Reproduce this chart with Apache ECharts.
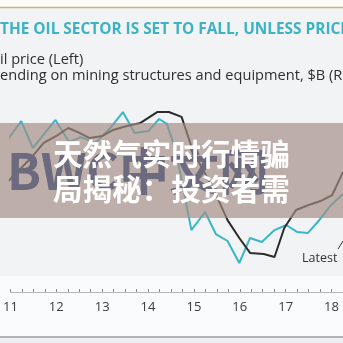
<!DOCTYPE html>
<html><head><meta charset="utf-8">
<script src="https://cdn.jsdelivr.net/npm/echarts@6/dist/echarts.min.js"></script>
<style>html,body{margin:0;padding:0;background:#fafbfc}#c{width:343px;height:343px}</style>
</head><body><div id="c"></div>
<script>
// Oil price (left axis), decimal year (20xx) vs $ per barrel
var oilYears = [10.936,11.235,11.490,11.981,12.279,12.535,12.855,13.175,13.452,13.708,14.006,14.241,14.412,14.603,14.945,15.243,15.478,15.733,15.989,16.224,16.480,16.757,17.013,17.247,17.482,17.716,17.972,18.249];
var oilValues = [96.8,106.8,92.5,107.4,95.7,98.3,95.2,103.1,111.6,100.5,101.5,107.9,105.3,91.4,48.9,58.5,46.8,43.1,31.4,44.7,42.6,48.9,51.6,47.9,47.3,53.7,61.7,68.1];
// Spending on mining structures and equipment, $B (right axis)
var spendYears = [10.936,11.192,11.469,11.725,12.002,12.258,12.471,12.727,13.004,13.239,13.537,13.836,14.198,14.454,14.731,14.987,15.200,15.414,15.733,15.989,16.224,16.522,16.757,16.970,17.226,17.503,17.759,18.015,18.249];
var spendValues = [107.6,115.0,123.0,131.6,135.9,140.8,138.3,134.6,135.9,139.6,142.0,143.9,150.6,150.6,147.6,126.0,115.0,103.9,84.2,73.2,64.0,63.4,61.5,79.3,90.4,93.5,95.9,99.6,113.7];
var tickYears = [11,12,13,14,15,16,17,18];
var titleText = 'THE OIL SECTOR IS SET TO FALL, UNLESS PRICES';
var legend1 = 'Oil price (Left)';
var legend2 = 'Spending on mining structures and equipment, $B (Right)';
var overlayLines = ['天然气实时行情骗', '局揭秘：投资者需'];
var watermark = 'BWC中文网';

function zip(a,b){return a.map(function(v,i){return [v,b[i]];});}
var mc = document.createElement('canvas').getContext('2d');
function w(t,font){mc.font=font;return mc.measureText(t).width;}
var legFont = '500 14.6px "Open Sans"';

var chart = echarts.init(document.getElementById('c'), null, {renderer:'canvas'});
chart.setOption({
  backgroundColor:'#fafbfc',
  animation:false,
  grid:{left:3,right:0,top:100,height:192},
  xAxis:{type:'value',min:11,max:18.25,interval:1,
    axisLine:{lineStyle:{color:'#b8b8b8',width:1}},
    axisTick:{inside:true,length:3,lineStyle:{color:'#8a8a8a'}},
    minorTick:{show:true,splitNumber:4,length:3,lineStyle:{color:'#8a8a8a'}},
    splitLine:{show:false},
    axisLabel:{margin:9,color:'#3b3b3b',fontSize:13,fontWeight:500,fontFamily:'Open Sans',
      showMaxLabel:false,
      formatter:function(v){return tickYears.indexOf(v)>=0?String(v):'';}}
  },
  yAxis:[{type:'value',min:16,max:118,show:false,splitLine:{show:false}},
         {type:'value',min:40,max:158,show:false,splitLine:{show:false}}],
  series:[
    {type:'line',yAxisIndex:0,data:zip(oilYears,oilValues),showSymbol:false,clip:false,
      lineStyle:{color:'#3ab6c7',width:2},z:3},
    {type:'line',yAxisIndex:1,data:zip(spendYears,spendValues),showSymbol:false,clip:false,
      lineStyle:{color:'#2b2b2b',width:2},z:4}
  ],
  graphic:[
    {type:'rect',z:-10,shape:{x:0,y:0,width:343,height:7},style:{fill:'#fbfbf7'}},
    {type:'rect',z:-10,shape:{x:0,y:8,width:343,height:268},style:{fill:'#f1f3f5'}},
    {type:'line',z:-9,shape:{x1:0,y1:7.5,x2:343,y2:7.5},style:{stroke:'#c6b584',lineWidth:1.5}},
    {type:'line',z:-9,shape:{x1:0,y1:337,x2:343,y2:337},style:{stroke:'#b4b4b4',lineWidth:2}},
    {type:'rect',z:-10,shape:{x:0,y:338,width:343,height:5},style:{fill:'#eef1f3'}},
    {type:'text',z:5,x:0,y:30,style:{text:titleText,fill:'#3cb3c4',font:'700 15.4px "Open Sans"',textVerticalAlign:'middle'}},
    {type:'text',z:5,x:-w('O',legFont),y:60,style:{text:legend1,fill:'#2f2f2f',font:legFont,textVerticalAlign:'middle'}},
    {type:'text',z:5,x:-w('Sp',legFont),y:76,style:{text:legend2,fill:'#2f2f2f',font:legFont,textVerticalAlign:'middle'}},
    {type:'text',z:5,x:302,y:258,style:{text:'Latest',fill:'#333',font:'500 12.5px "Open Sans"',textVerticalAlign:'middle'}},
    {type:'line',z:5,shape:{x1:338,y1:249,x2:343,y2:241},style:{stroke:'#333',lineWidth:1}},
    {type:'rect',z:100,shape:{x:0,y:123,width:343,height:95},style:{fill:'rgba(164,140,131,0.67)'}},
    {type:'text',z:101,x:7,y:171,style:{text:watermark,fill:'#6c6a7e',font:'700 50px "Noto Sans CJK SC"',textVerticalAlign:'middle'}},
    {type:'text',z:102,x:53,y:154,style:{text:overlayLines[0],fill:'#ffffff',font:'700 29.6px "Noto Sans CJK SC"',textVerticalAlign:'middle'}},
    {type:'text',z:102,x:53,y:189,style:{text:overlayLines[1],fill:'#ffffff',font:'700 29.6px "Noto Sans CJK SC"',textVerticalAlign:'middle'}}
  ]
});
</script></body></html>
